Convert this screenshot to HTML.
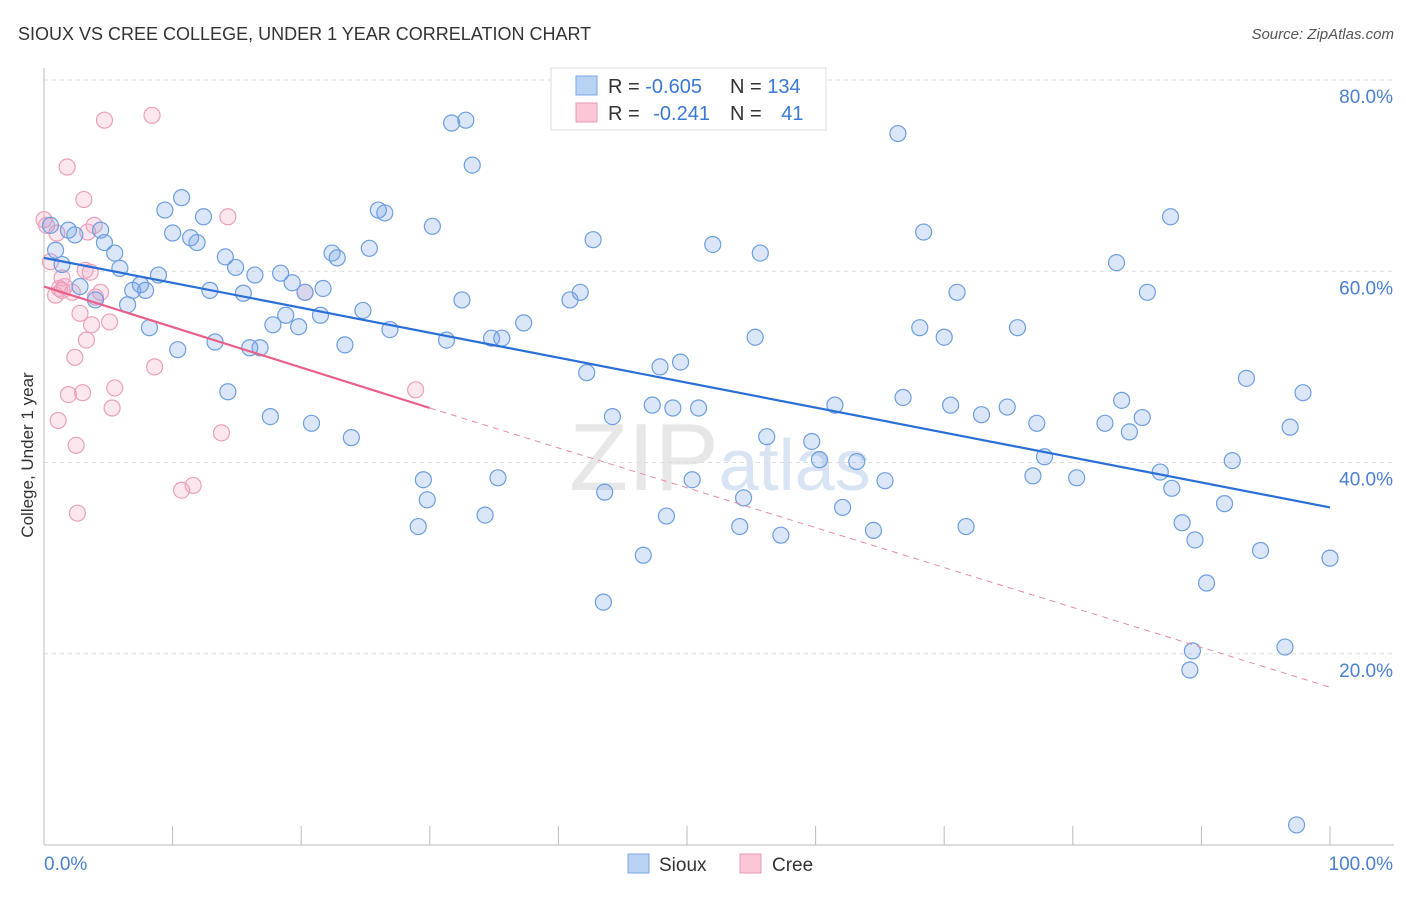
<!DOCTYPE html>
<html><head><meta charset="utf-8">
<style>
body{margin:0;background:#fff;font-family:"Liberation Sans",sans-serif;}
svg text{font-family:"Liberation Sans",sans-serif;}
</style></head>
<body>
<svg id="chart" width="1406" height="892" xmlns="http://www.w3.org/2000/svg">
<text x="18" y="40" font-size="18" fill="#333">SIOUX VS CREE COLLEGE, UNDER 1 YEAR CORRELATION CHART</text>
<text x="1394" y="39" font-size="15" fill="#555" text-anchor="end" font-style="italic">Source: ZipAtlas.com</text>
<text x="720" y="490" font-size="96" fill="#ddd" text-anchor="middle" opacity="0.7" font-family="Liberation Serif">ZIP<tspan fill="#c8d8ee" font-family="Liberation Sans" font-size="72">atlas</tspan></text>
<g id="grid"></g>
<g id="axes"></g>
<g id="cree"></g>
<g id="sioux"></g>
<g id="lines"></g>
<text transform="translate(33,455) rotate(-90)" font-size="17" fill="#333" text-anchor="middle">College, Under 1 year</text>
<g>
<rect x="551" y="68" width="275" height="62" fill="#fff" stroke="#ddd"/>
<rect x="576" y="76" width="21" height="19" fill="#b9d3f5" stroke="#7aa7e6"/>
<rect x="576" y="103" width="21" height="19" fill="#fbc7d6" stroke="#ea9ab4"/>
<text x="608" y="93" font-size="20" fill="#333">R = <tspan fill="#3a78d4">-0.605</tspan></text>
<text x="730" y="93" font-size="20" fill="#333">N = <tspan fill="#3a78d4">134</tspan></text>
<text x="608" y="120" font-size="20" fill="#333">R = <tspan fill="#3a78d4" dx="8">-0.241</tspan></text>
<text x="730" y="120" font-size="20" fill="#333">N = <tspan fill="#3a78d4" dx="14">41</tspan></text>
</g>
<g>
<rect x="628" y="854" width="21" height="19" fill="#b9d3f5" stroke="#7aa7e6"/>
<text x="659" y="871" font-size="19" fill="#333">Sioux</text>
<rect x="740" y="854" width="21" height="19" fill="#fbc7d6" stroke="#ea9ab4"/>
<text x="772" y="871" font-size="19" fill="#333">Cree</text>
</g>
</svg>
<script>
const yTicks=[20,40,60,80];
const yTickLabels=["20.0%","40.0%","60.0%","80.0%"];
const xTicks=[0,10,20,30,40,50,60,70,80,90,100];
const siouxX=[0.5,0.9,1.4,1.9,2.4,2.8,4.0,4.4,4.7,5.5,5.9,6.5,6.9,7.5,7.9,8.2,8.9,9.4,10.0,10.4,10.7,11.4,11.9,12.4,12.9,13.3,14.1,14.3,14.9,15.5,16.0,16.4,16.8,17.6,17.8,18.4,18.8,19.3,19.8,20.3,20.8,21.5,21.7,22.4,22.8,23.4,23.9,24.8,25.3,26.0,26.5,26.9,29.1,29.5,29.8,30.2,31.3,31.7,32.5,32.8,33.3,34.3,34.8,35.3,35.6,37.3,40.9,41.7,42.2,42.7,43.5,43.6,44.2,46.6,47.3,47.9,48.4,48.9,49.5,50.4,50.9,52.0,54.1,54.4,55.3,55.7,56.2,57.3,59.7,60.3,61.5,62.1,63.2,64.5,65.4,66.4,66.8,68.1,68.4,70.0,70.5,71.0,71.7,72.9,74.9,75.7,76.9,77.2,77.8,80.3,82.5,83.4,83.8,84.4,85.4,85.8,86.8,87.6,87.7,88.5,89.1,89.5,89.3,90.4,91.8,92.4,93.5,94.6,96.5,96.9,97.9,97.4,100];
const siouxY=[64.8,62.2,60.7,64.3,63.8,58.4,57.0,64.3,63.0,61.9,60.3,56.5,58.0,58.6,58.0,54.1,59.6,66.4,64.0,51.8,67.7,63.5,63.0,65.7,58.0,52.6,61.5,47.4,60.4,57.7,52.0,59.6,52.0,44.8,54.4,59.8,55.4,58.8,54.2,57.8,44.1,55.4,58.2,61.9,61.4,52.3,42.6,55.9,62.4,66.4,66.1,53.9,33.3,38.2,36.1,64.7,52.8,75.5,57.0,75.8,71.1,34.5,53.0,38.4,53.0,54.6,57.0,57.8,49.4,63.3,25.4,36.9,44.8,30.3,46.0,50.0,34.4,45.7,50.5,38.2,45.7,62.8,33.3,36.3,53.1,61.9,42.7,32.4,42.2,40.3,46.0,35.3,40.1,32.9,38.1,74.4,46.8,54.1,64.1,53.1,46.0,57.8,33.3,45.0,45.8,54.1,38.6,44.1,40.6,38.4,44.1,60.9,46.5,43.2,44.7,57.8,39.0,65.7,37.3,33.7,18.3,31.9,20.3,27.4,35.7,40.2,48.8,30.8,20.7,43.7,47.3,2.1,30.0];
const creeX=[0,0.2,0.5,0.9,1.0,1.2,1.4,1.6,1.8,1.9,2.2,2.4,2.6,2.8,3.0,3.1,3.2,3.3,3.6,3.7,3.9,4.4,4.7,5.1,5.3,5.5,8.4,8.6,10.7,11.6,13.8,14.3,20.3,28.9,1.1,2.5,4.0,3.4,1.4];
const creeY=[65.4,64.8,61.0,57.5,64.0,58.2,59.3,58.4,70.9,47.1,57.8,51.0,34.7,55.6,47.3,67.5,60.1,52.8,59.9,54.4,64.8,57.8,75.8,54.7,45.7,47.8,76.3,50.0,37.1,37.6,43.1,65.7,57.8,47.6,44.4,41.8,57.3,64.1,58.0];
const siouxTrend=[[0,61.4],[100,35.3]];
const creeTrendSolid=[[0,58.4],[30,45.7]];
const creeTrendDash=[[30,45.7],[100,16.5]];
const NS="http://www.w3.org/2000/svg";
const X=v=>44+v*12.86, Y=v=>845-v*9.5625;
function mk(tag,attrs,parent){const e=document.createElementNS(NS,tag);for(const k in attrs)e.setAttribute(k,attrs[k]);parent.appendChild(e);return e;}
const grid=document.getElementById('grid'),axes=document.getElementById('axes');
yTicks.forEach((t,i)=>{
 const l=mk('line',{x1:44,x2:1394,y1:Y(t),y2:Y(t),stroke:'#ddd','stroke-dasharray':'4,4'},grid);
 
 
 const tx=mk('text',{x:1393,y:Y(t)+23,'font-size':19,fill:'#4a80d0','text-anchor':'end'},axes);
 tx.textContent=yTickLabels[i];
 
 
});
const ax=mk('line',{x1:44,x2:44,y1:68,y2:845,stroke:'#bbb'},axes);


const bx=mk('line',{x1:44,x2:1394,y1:845,y2:845,stroke:'#bbb'},axes);


xTicks.forEach(t=>{
 const l=mk('line',{x1:X(t),x2:X(t),y1:826,y2:845,stroke:'#bbb'},axes);
 
 
});
const xl0=mk('text',{x:44,y:870,'font-size':19,fill:'#4a80d0'},axes);xl0.textContent='0.0%';


const xl1=mk('text',{x:1393,y:870,'font-size':19,fill:'#4a80d0','text-anchor':'end'},axes);xl1.textContent='100.0%';


const cg=document.getElementById('cree');
creeX.forEach((x,i)=>{const c=mk('circle',{cx:X(x),cy:Y(creeY[i]),r:8,fill:'rgba(245,160,190,0.25)',stroke:'#eba0ba','stroke-width':1.2},cg);
 
 });
const sg=document.getElementById('sioux');
siouxX.forEach((x,i)=>{const c=mk('circle',{cx:X(x),cy:Y(siouxY[i]),r:8,fill:'rgba(110,160,230,0.25)',stroke:'#6c9ee0','stroke-width':1.2},sg);
 
 });
const lg=document.getElementById('lines');
const s=mk('line',{x1:X(siouxTrend[0][0]),y1:Y(siouxTrend[0][1]),x2:X(siouxTrend[1][0]),y2:Y(siouxTrend[1][1]),stroke:'#2a6fd6','stroke-width':2.2},lg);


const c1=mk('line',{x1:X(creeTrendSolid[0][0]),y1:Y(creeTrendSolid[0][1]),x2:X(creeTrendSolid[1][0]),y2:Y(creeTrendSolid[1][1]),stroke:'#e8608a','stroke-width':2.2},lg);


const c2=mk('line',{x1:X(creeTrendDash[0][0]),y1:Y(creeTrendDash[0][1]),x2:X(creeTrendDash[1][0]),y2:Y(creeTrendDash[1][1]),stroke:'#e88aa8','stroke-width':1,'stroke-dasharray':'6,5'},lg);


</script>
</body></html>
